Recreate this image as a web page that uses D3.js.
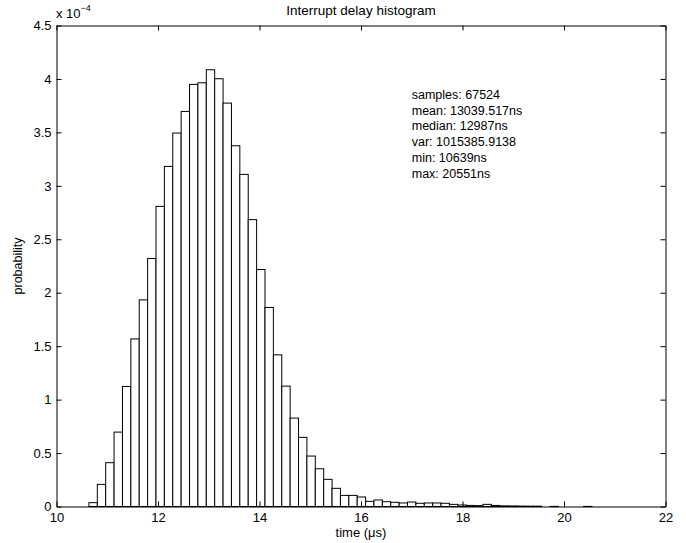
<!DOCTYPE html>
<html>
<head>
<meta charset="utf-8">
<script src="https://d3js.org/d3.v7.min.js"></script>
<style>
  body { margin: 0; background: #fff; }
  text { font-family: "Liberation Sans", Arial, sans-serif; font-size: 12.5px; fill: #000; }
</style>
</head>
<body>
<script>
    var width = 686;
    var height = 543;

    // histogram bins (probability, in units of 1e-4), 60 bins from min to max sample
    var binMin = 10.639;
    var binMax = 20.551;
    var probs = [
        0.036, 0.207, 0.41, 0.696, 1.123, 1.568, 1.933, 2.32, 2.808, 3.182,
        3.494, 3.696, 3.949, 3.964, 4.086, 4.002, 3.774, 3.375, 3.107, 2.684,
        2.217, 1.862, 1.419, 1.126, 0.827, 0.647, 0.472, 0.353, 0.254, 0.170,
        0.104, 0.104, 0.089, 0.048, 0.061, 0.045, 0.039, 0.033, 0.042, 0.030,
        0.033, 0.033, 0.030, 0.020, 0.014, 0.010, 0.008, 0.020, 0.010, 0.006,
        0.005, 0.004, 0.003, 0.003, 0, 0.001, 0, 0, 0, 0.001
    ];
    var xTicks = [10, 12, 14, 16, 18, 20, 22];
    var yTicks = [0, 0.5, 1, 1.5, 2, 2.5, 3, 3.5, 4, 4.5];
    var stats = [
        "samples: 67524",
        "mean: 13039.517ns",
        "median: 12987ns",
        "var: 1015385.9138",
        "min: 10639ns",
        "max: 20551ns"
    ];

    var svg = d3.select("body")
    .append("svg")
    .attr("width", width)
    .attr("height", height);

    var scaleX = d3.scaleLinear()
    .domain([10, 22])
    .range([56.5, 665.5]);

    var scaleY = d3.scaleLinear()
    .domain([0, 4.5])
    .range([506.5, 25.5]);

    var binWidth = (binMax - binMin) / probs.length;

    // bars
    svg.append("g")
    .selectAll("rect")
    .data(probs)
    .enter()
    .append("rect")
    .attr("x", function(d, i){ return scaleX(binMin + i * binWidth); })
    .attr("y", function(d){ return scaleY(d); })
    .attr("width", function(d, i){ return scaleX(binMin + (i + 1) * binWidth) - scaleX(binMin + i * binWidth); })
    .attr("height", function(d){ return scaleY(0) - scaleY(d); })
    .style("fill", "#fff")
    .style("stroke", "#000")
    .style("stroke-width", 1);

    // axes, ticks pointing inward (matlab style)
    var tickLen = 5;
    svg.append("g")
    .attr("transform", "translate(0," + scaleY(0) + ")")
    .call(d3.axisBottom(scaleX).tickValues(xTicks).tickSize(-tickLen).tickPadding(6).tickSizeOuter(0))
    .call(function(g){ g.selectAll("text").style("font-size", "13px").style("font-family", "Liberation Sans, Arial"); });

    svg.append("g")
    .attr("transform", "translate(0," + scaleY(4.5) + ")")
    .call(d3.axisTop(scaleX).tickValues(xTicks).tickSize(-tickLen).tickFormat("").tickSizeOuter(0));

    svg.append("g")
    .attr("transform", "translate(" + scaleX(10) + ",0)")
    .call(d3.axisLeft(scaleY).tickValues(yTicks).tickSize(-tickLen).tickPadding(5).tickSizeOuter(0)
        .tickFormat(function(d){ return d3.format("")(d); }))
    .call(function(g){ g.selectAll("text").style("font-size", "13px").style("font-family", "Liberation Sans, Arial"); });

    svg.append("g")
    .attr("transform", "translate(" + scaleX(22) + ",0)")
    .call(d3.axisRight(scaleY).tickValues(yTicks).tickSize(-tickLen).tickFormat("").tickSizeOuter(0));

    svg.selectAll(".domain").style("stroke", "#000");
    svg.selectAll(".tick line").style("stroke", "#000");

    // exponent label
    var expo = svg.append("text")
    .attr("x", 56)
    .attr("y", 18)
    .style("font-size", "13px");
    expo.append("tspan").text("x 10");
    expo.append("tspan").attr("dy", -7).style("font-size", "9px").text("\u22124");

    // title and axis labels
    svg.append("text")
    .attr("x", (scaleX(10) + scaleX(22)) / 2)
    .attr("y", 15)
    .attr("text-anchor", "middle")
    .style("font-size", "13.5px")
    .text("Interrupt delay histogram");

    svg.append("text")
    .attr("x", (scaleX(10) + scaleX(22)) / 2)
    .attr("y", 537)
    .attr("text-anchor", "middle")
    .style("font-size", "13px")
    .text("time (\u03bcs)");

    svg.append("text")
    .attr("transform", "translate(22," + ((scaleY(0) + scaleY(4.5)) / 2) + ") rotate(-90)")
    .attr("text-anchor", "middle")
    .text("probability");

    // stats block
    svg.append("g")
    .selectAll("text")
    .data(stats)
    .enter()
    .append("text")
    .attr("x", scaleX(17))
    .attr("y", function(d, i){ return 99 + i * 15.7; })
    .text(function(d){ return d; });
</script>
</body>
</html>
